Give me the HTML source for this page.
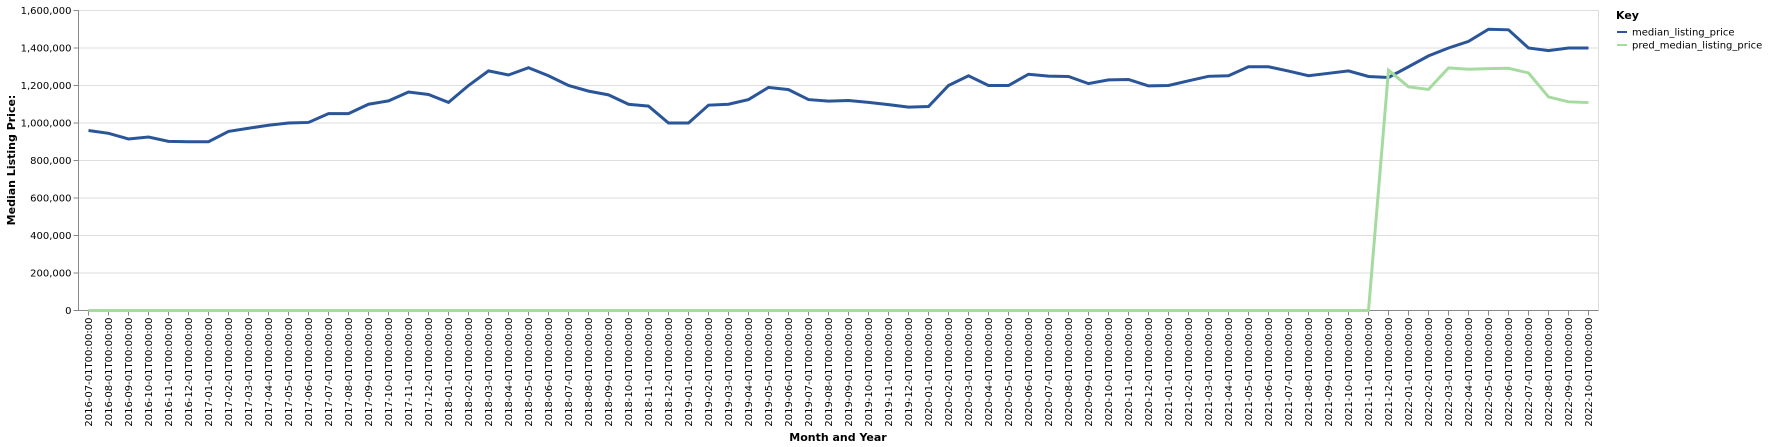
<!DOCTYPE html>
<html><head><meta charset="utf-8"><style>
html,body{margin:0;padding:0;background:#fff;}
svg{display:block;font-family:"DejaVu Sans","Liberation Sans",sans-serif;}
</style></head><body>
<svg id="chart" width="1768" height="447" viewBox="0 0 1768 447" xmlns="http://www.w3.org/2000/svg">
<g id="grid"></g>
<g id="yaxis"></g>
<g id="xaxis"></g>
<g id="series"></g>
<text transform="translate(15,160) rotate(-90)" text-anchor="middle" font-size="11" font-weight="bold" fill="#000">Median Listing Price:</text>
<text x="838" y="441" text-anchor="middle" font-size="11" font-weight="bold" fill="#000">Month and Year</text>
<g>
<text x="1616" y="19" font-size="11" font-weight="bold" fill="#000">Key</text>
<g>
<line x1="1617" y1="32" x2="1627" y2="32" stroke="#2a5599" stroke-width="2"/>
<text x="1632" y="35.5" font-size="10" fill="#000">median_listing_price</text></g>
<g>
<line x1="1617" y1="45" x2="1627" y2="45" stroke="#a6dba0" stroke-width="2"/>
<text x="1632" y="48.5" font-size="10" fill="#000">pred_median_listing_price</text></g>
</g>
</svg>
<script>
const startYear = 2016, startMonth = 7, monthCount = 76;
const yTicks = [0,200000,400000,600000,800000,1000000,1200000,1400000,1600000];
const medianValues = [960000,945000,915000,925000,902000,900000,900000,955000,972000,988000,1000000,1003000,1050000,1050000,1100000,1118000,1165000,1152000,1110000,1200000,1278000,1256000,1295000,1252000,1200000,1170000,1150000,1100000,1090000,1000000,1000000,1095000,1100000,1125000,1190000,1178000,1125000,1117000,1120000,1110000,1098000,1085000,1088000,1200000,1252000,1200000,1200000,1260000,1250000,1248000,1210000,1230000,1232000,1198000,1200000,1225000,1249000,1252000,1300000,1300000,1277000,1252000,1265000,1278000,1248000,1243000,1300000,1358000,1400000,1435000,1500000,1497000,1400000,1386000,1400000,1400000];
const predValues = [0,0,0,0,0,0,0,0,0,0,0,0,0,0,0,0,0,0,0,0,0,0,0,0,0,0,0,0,0,0,0,0,0,0,0,0,0,0,0,0,0,0,0,0,0,0,0,0,0,0,0,0,0,0,0,0,0,0,0,0,0,0,0,0,0,1282000,1193000,1179000,1294000,1287000,1290000,1292000,1267000,1139000,1113000,1109000];
const categories = [];
for (let i = 0; i < monthCount; i++) {
  const m = (startMonth - 1 + i) % 12 + 1, y = startYear + Math.floor((startMonth - 1 + i) / 12);
  categories.push(y + '-' + String(m).padStart(2,'0') + '-01T00:00:00');
}
const NS = 'http://www.w3.org/2000/svg';
const L = 78.5, R = 1598.5, T = 10.5, B = 310.5, X0 = 88.5, STEP = 20;
const xs = i => X0 + i * STEP;
const ys = v => B - v / 1600000 * (B - T);
function mk(tag, attrs, parent) { const e = document.createElementNS(NS, tag); for (const k in attrs) e.setAttribute(k, attrs[k]); parent.appendChild(e); return e; }
const grid = document.getElementById('grid'), yaxis = document.getElementById('yaxis'), xaxis = document.getElementById('xaxis'), series = document.getElementById('series');
yTicks.forEach(v => {
  const y = ys(v);
  const g = mk('line', {x1: L, x2: R, y1: y, y2: y, stroke: '#ddd', 'stroke-width': 1}, grid);
  
  
  mk('line', {x1: L - 5, x2: L, y1: y, y2: y, stroke: '#888'}, yaxis);
  const t = mk('text', {x: L - 7, y: y + 3.5, 'text-anchor': 'end', 'font-size': 10, fill: '#000'}, yaxis);
  
  
  t.textContent = v.toLocaleString('en-US');
});
mk('line', {x1: R, x2: R, y1: T, y2: B, stroke: '#ddd'}, grid);
mk('line', {x1: L, x2: L, y1: T, y2: B, stroke: '#888'}, yaxis);
mk('line', {x1: L, x2: R, y1: B, y2: B, stroke: '#888'}, xaxis);
categories.forEach((c, i) => {
  const x = xs(i);
  mk('line', {x1: x, x2: x, y1: B, y2: B + 5, stroke: '#888'}, xaxis);
  const t = mk('text', {transform: `translate(${x + 3.5},${B + 7}) rotate(-90)`, 'text-anchor': 'end', 'font-size': 10, fill: '#000'}, xaxis);
  
  
  t.textContent = c;
});
function line(vals, color, name) {
  const p = mk('path', {d: vals.map((v, i) => (i ? 'L' : 'M') + xs(i) + ',' + ys(v)).join(''), fill: 'none', stroke: color, 'stroke-width': 3, 'stroke-linejoin': 'miter'}, series);
  
  
}
line(medianValues, '#2a5599', 'median-listing-price-line');
line(predValues, '#a6dba0', 'pred-median-listing-price-line');
</script>
</body></html>
